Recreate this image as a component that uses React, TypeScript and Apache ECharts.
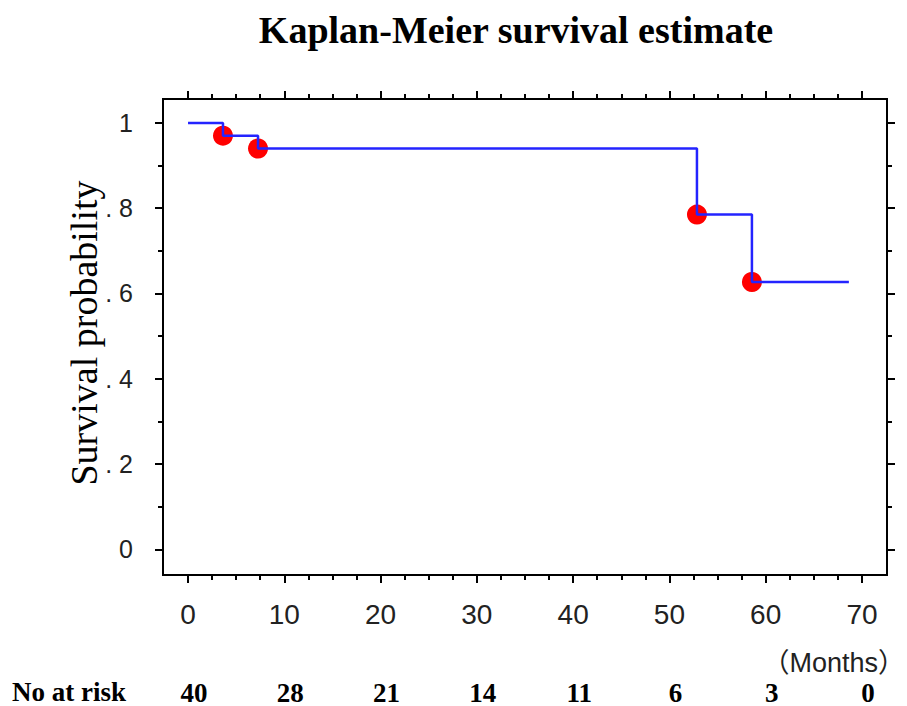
import React, { useEffect, useRef } from "react";
import * as echarts from "echarts";

// ---- data ----
const kmTimes = [0, 3.63, 7.27, 52.86, 58.57, 68.64];
const kmSurvival = [1, 0.97, 0.94, 0.785, 0.627, 0.627];
const eventTimes = [3.63, 7.27, 52.86, 58.57];
const eventSurvival = [0.97, 0.94, 0.785, 0.627];
const xTicks = [0, 10, 20, 30, 40, 50, 60, 70];
const xMinorTicks = [2.5, 5, 7.5, 12.5, 15, 17.5, 22.5, 25, 27.5, 32.5, 35, 37.5, 42.5, 45, 47.5, 52.5, 55, 57.5, 62.5, 65, 67.5];
const yTicks = [0, 0.2, 0.4, 0.6, 0.8, 1];
const yMinorTicks = [0.1, 0.3, 0.5, 0.7, 0.9];
const yTickLabels = ["0", ". 2", ". 4", ". 6", ". 8", "1"];
const atRisk = [40, 28, 21, 14, 11, 6, 3, 0];

const X_MIN = -2.6;
const X_MAX = 72.6;
const Y_MIN = -0.06;
const Y_MAX = 1.056;

const tickFont = "'Liberation Sans Narrow', 'Liberation Sans', sans-serif";
const serif = "'Liberation Serif', 'Times New Roman', serif";

export default function App() {
  const ref = useRef<HTMLDivElement>(null);
  useEffect(() => {
    if (!ref.current) return;
    const chart = echarts.init(ref.current, null, { renderer: "svg" });
    const line = { show: true, onZero: false, lineStyle: { color: "#000", width: 2 } };
    const xBase = (extra: any) => ({
      type: "value",
      min: X_MIN,
      max: X_MAX,
      splitLine: { show: false },
      axisLine: line,
      ...extra,
    });
    const yBase = (extra: any) => ({
      type: "value",
      min: Y_MIN,
      max: Y_MAX,
      splitLine: { show: false },
      axisLine: line,
      ...extra,
    });
    const tick = (vals: number[], len: number) => ({
      show: true,
      inside: false,
      length: len,
      customValues: vals,
      lineStyle: { color: "#000", width: 2 },
    });
    const noLabel = { show: false };
    const xLabelMap: Record<string, number> = {};
    xTicks.forEach((t, i) => (xLabelMap[String(t)] = atRisk[i]));
    const yLabelMap: Record<string, string> = {};
    yTicks.forEach((t, i) => (yLabelMap[t.toFixed(1)] = yTickLabels[i]));

    chart.setOption({
      animation: false,
      grid: { left: 163, top: 99, width: 724, height: 482 },
      xAxis: [
        xBase({
          position: "bottom",
          axisTick: tick(xTicks, 8),
          axisLabel: {
            customValues: xTicks,
            margin: 25,
            fontSize: 28,
            fontFamily: tickFont,
            color: "#222",
          },
        }),
        xBase({ position: "bottom", axisTick: tick(xMinorTicks, 5), axisLabel: noLabel }),
        xBase({ position: "top", axisTick: tick(xTicks, 8), axisLabel: noLabel }),
        xBase({ position: "top", axisTick: tick(xMinorTicks, 5), axisLabel: noLabel }),
        xBase({
          position: "bottom",
          offset: 96,
          axisLine: { show: false },
          axisTick: { show: false },
          axisLabel: {
            customValues: xTicks,
            formatter: (v: number) => String(xLabelMap[String(v)]),
            fontSize: 27,
            fontWeight: "bold",
            fontFamily: serif,
            color: "#000",
            padding: [0, 0, 0, 12],
          },
        }),
      ],
      yAxis: [
        yBase({
          position: "left",
          axisTick: tick(yTicks, 8),
          axisLabel: {
            customValues: yTicks,
            formatter: (v: number) => yLabelMap[v.toFixed(1)],
            margin: 30,
            fontSize: 25,
            fontFamily: tickFont,
            color: "#222",
          },
        }),
        yBase({ position: "left", axisTick: tick(yMinorTicks, 5), axisLabel: noLabel }),
        yBase({ position: "right", axisTick: tick(yTicks, 8), axisLabel: noLabel }),
        yBase({ position: "right", axisTick: tick(yMinorTicks, 5), axisLabel: noLabel }),
      ],
      series: [
        {
          type: "line",
          xAxisIndex: 0,
          yAxisIndex: 0,
          step: "end",
          showSymbol: false,
          data: kmTimes.map((t, i) => [t, kmSurvival[i]]),
          lineStyle: { color: "#2424ff", width: 2.5 },
          itemStyle: { color: "#2424ff" },
        },
        {
          type: "scatter",
          xAxisIndex: 0,
          yAxisIndex: 0,
          symbol: "circle",
          symbolSize: 20,
          data: eventTimes.map((t, i) => [t, eventSurvival[i]]),
          itemStyle: { color: "#ff0000", opacity: 1 },
        },
      ],
      graphic: [
        {
          type: "text",
          x: 516,
          y: 30,
          style: {
            text: "Kaplan-Meier survival estimate",
            font: `bold 38px ${serif}`,
            fill: "#000",
            align: "center",
            verticalAlign: "middle",
          },
        },
        {
          type: "text",
          x: 84,
          y: 333,
          rotation: Math.PI / 2,
          style: {
            text: "Survival probability",
            font: `38px ${serif}`,
            fill: "#000",
            align: "center",
            verticalAlign: "middle",
          },
        },
        {
          type: "text",
          x: 905,
          y: 663,
          style: {
            text: "（Months）",
            font: "27px 'Liberation Sans', 'Noto Sans CJK JP', sans-serif",
            fill: "#222",
            align: "right",
            verticalAlign: "middle",
          },
        },
        {
          type: "text",
          x: 12,
          y: 692,
          style: {
            text: "No at risk",
            font: `bold 27px ${serif}`,
            fill: "#000",
            align: "left",
            verticalAlign: "middle",
          },
        },
      ],
    });
    return () => chart.dispose();
  }, []);
  return (
    <div
      ref={ref}
      style={{ position: "absolute", left: 0, top: 0, width: 907, height: 706, background: "#fff" }}
    />
  );
}
